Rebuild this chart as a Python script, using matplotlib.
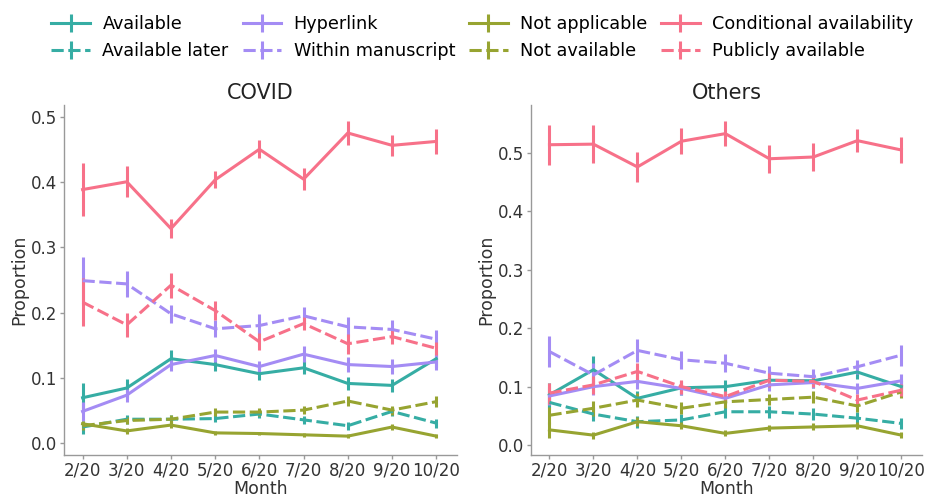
import matplotlib
matplotlib.use("Agg")
import matplotlib.pyplot as plt
import numpy as np

months = ["2/20", "3/20", "4/20", "5/20", "6/20", "7/20", "8/20", "9/20", "10/20"]
categories = ["Available", "Available later", "Hyperlink", "Within manuscript",
              "Not applicable", "Not available", "Conditional availability", "Publicly available"]

# COVID panel: means and error half-widths
covid_available = [0.069, 0.084, 0.129, 0.120, 0.106, 0.115, 0.091, 0.088, 0.129]
covid_available_err = [0.022, 0.014, 0.013, 0.010, 0.010, 0.010, 0.010, 0.010, 0.013]
covid_available_later = [0.024, 0.036, 0.036, 0.037, 0.044, 0.035, 0.026, 0.048, 0.030]
covid_available_later_err = [0.010, 0.007, 0.006, 0.006, 0.006, 0.006, 0.006, 0.007, 0.007]
covid_hyperlink = [0.048, 0.073, 0.120, 0.134, 0.117, 0.136, 0.120, 0.117, 0.124]
covid_hyperlink_err = [0.015, 0.010, 0.010, 0.010, 0.009, 0.012, 0.011, 0.011, 0.013]
covid_within = [0.249, 0.244, 0.198, 0.175, 0.180, 0.195, 0.178, 0.174, 0.159]
covid_within_err = [0.037, 0.020, 0.014, 0.013, 0.017, 0.013, 0.015, 0.014, 0.014]
covid_not_applicable = [0.029, 0.018, 0.027, 0.015, 0.014, 0.012, 0.010, 0.024, 0.010]
covid_not_applicable_err = [0.005, 0.004, 0.004, 0.003, 0.003, 0.003, 0.003, 0.004, 0.003]
covid_not_available = [0.026, 0.034, 0.036, 0.047, 0.047, 0.050, 0.064, 0.050, 0.063]
covid_not_available_err = [0.006, 0.006, 0.006, 0.006, 0.006, 0.006, 0.007, 0.007, 0.008]
covid_conditional = [0.389, 0.401, 0.329, 0.404, 0.451, 0.405, 0.476, 0.457, 0.463]
covid_conditional_err = [0.041, 0.024, 0.015, 0.013, 0.014, 0.017, 0.019, 0.016, 0.019]
covid_public = [0.216, 0.181, 0.242, 0.203, 0.155, 0.183, 0.152, 0.163, 0.145]
covid_public_err = [0.037, 0.019, 0.019, 0.014, 0.013, 0.010, 0.015, 0.011, 0.010]

# Others panel
others_available = [0.086, 0.129, 0.080, 0.098, 0.100, 0.111, 0.110, 0.125, 0.100]
others_available_err = [0.020, 0.024, 0.013, 0.012, 0.012, 0.012, 0.012, 0.012, 0.012]
others_available_later = [0.073, 0.053, 0.040, 0.043, 0.057, 0.057, 0.053, 0.046, 0.037]
others_available_later_err = [0.012, 0.012, 0.010, 0.010, 0.010, 0.010, 0.010, 0.010, 0.010]
others_hyperlink = [0.084, 0.100, 0.109, 0.097, 0.080, 0.103, 0.107, 0.097, 0.110]
others_hyperlink_err = [0.015, 0.015, 0.013, 0.012, 0.010, 0.010, 0.010, 0.010, 0.012]
others_within = [0.160, 0.120, 0.162, 0.146, 0.140, 0.123, 0.117, 0.134, 0.154]
others_within_err = [0.026, 0.020, 0.020, 0.015, 0.015, 0.013, 0.013, 0.012, 0.018]
others_not_applicable = [0.026, 0.017, 0.040, 0.033, 0.020, 0.029, 0.031, 0.033, 0.017]
others_not_applicable_err = [0.014, 0.006, 0.008, 0.006, 0.005, 0.005, 0.006, 0.006, 0.005]
others_not_available = [0.051, 0.063, 0.077, 0.063, 0.074, 0.078, 0.082, 0.067, 0.091]
others_not_available_err = [0.015, 0.013, 0.012, 0.010, 0.010, 0.010, 0.010, 0.010, 0.010]
others_conditional = [0.514, 0.515, 0.476, 0.520, 0.533, 0.490, 0.493, 0.521, 0.505]
others_conditional_err = [0.034, 0.032, 0.026, 0.022, 0.021, 0.024, 0.024, 0.020, 0.022]
others_public = [0.089, 0.103, 0.126, 0.100, 0.083, 0.111, 0.109, 0.077, 0.094]
others_public_err = [0.018, 0.015, 0.015, 0.012, 0.010, 0.012, 0.010, 0.010, 0.010]

covid_series = [
    (covid_available, covid_available_err), (covid_available_later, covid_available_later_err),
    (covid_hyperlink, covid_hyperlink_err), (covid_within, covid_within_err),
    (covid_not_applicable, covid_not_applicable_err), (covid_not_available, covid_not_available_err),
    (covid_conditional, covid_conditional_err), (covid_public, covid_public_err),
]
others_series = [
    (others_available, others_available_err), (others_available_later, others_available_later_err),
    (others_hyperlink, others_hyperlink_err), (others_within, others_within_err),
    (others_not_applicable, others_not_applicable_err), (others_not_available, others_not_available_err),
    (others_conditional, others_conditional_err), (others_public, others_public_err),
]

teal, purple, olive, red = "#36ada4", "#a48cf4", "#97a431", "#f77189"
colors = [teal, teal, purple, purple, olive, olive, red, red]
dashed = [False, True, False, True, False, True, False, True]

plt.rcParams["font.family"] = "DejaVu Sans"
fig = plt.figure(figsize=(9.27, 4.98), dpi=100)
W, H = 927, 498
ax1 = fig.add_axes([64 / W, 1 - 455 / H, (457 - 64) / W, (455 - 105) / H])
ax2 = fig.add_axes([531 / W, 1 - 455 / H, (922 - 531) / W, (455 - 105) / H])

lw = 2.2
x = np.arange(len(months))
handles = []
for ax, series, title, ylim, yt in [
    (ax1, covid_series, "COVID", (-0.019, 0.519), [0.0, 0.1, 0.2, 0.3, 0.4, 0.5]),
    (ax2, others_series, "Others", (-0.017, 0.582), [0.0, 0.1, 0.2, 0.3, 0.4, 0.5]),
]:
    hs = []
    for (vals, errs), c, d, lab in zip(series, colors, dashed, categories):
        eb = ax.errorbar(x, vals, yerr=errs, color=c, lw=lw, elinewidth=lw,
                         capsize=0, label=lab)
        if d:
            eb.lines[0].set_linestyle((0, (4, 1.5)))
        hs.append(eb)
    handles = hs
    ax.set_xlim(-0.42, 8.47)
    ax.set_ylim(*ylim)
    ax.set_xticks(x)
    ax.set_xticklabels(months)
    ax.set_yticks(yt)
    ax.set_yticklabels([f"{v:.1f}" for v in yt])
    ax.set_title(title, fontsize=15, color="#222222", pad=4)
    ax.set_xlabel("Month", fontsize=12.5, color="#333333", labelpad=0)
    ax.set_ylabel("Proportion", fontsize=12.5, color="#333333", labelpad=1.5)
    for s in ["top", "right"]:
        ax.spines[s].set_visible(False)
    for s in ["left", "bottom"]:
        ax.spines[s].set_color("#999999")
        ax.spines[s].set_linewidth(1.0)
    ax.tick_params(axis="both", labelsize=12, colors="#999999", labelcolor="#333333",
                   length=3, width=1, pad=2)

fig.legend(handles, categories, ncol=4, loc="upper left", bbox_to_anchor=(39 / W, 1 - 3 / H),
           frameon=False, fontsize=12.7, handlelength=2.2, handletextpad=0.7,
           columnspacing=0.78, labelspacing=0.5, borderaxespad=0.3)

fig.savefig("out.png", dpi=100)
